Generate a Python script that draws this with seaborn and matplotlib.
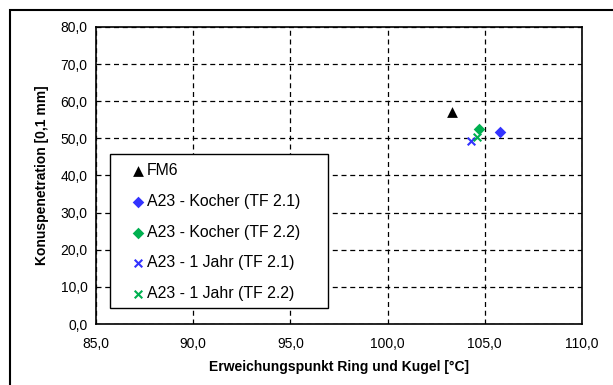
import matplotlib
matplotlib.use("Agg")
import matplotlib.pyplot as plt
import matplotlib.ticker as mticker
from matplotlib.patches import Rectangle
import pandas as pd
import seaborn as sns

# Values
series_names = ["FM6", "A23 - Kocher (TF 2.1)", "A23 - Kocher (TF 2.2)",
                "A23 - 1 Jahr (TF 2.1)", "A23 - 1 Jahr (TF 2.2)"]
erweichungspunkt = [103.3, 105.8, 104.7, 104.3, 104.6]
konuspenetration = [57.0, 51.6, 52.5, 49.4, 50.3]
series_colors = ["#000000", "#3333FF", "#00B050", "#3333FF", "#00B050"]
series_markers = ["^", "D", "D", "x", "x"]
series_sizes = [60, 35, 35, 30, 30]

x_ticks = [85, 90, 95, 100, 105, 110]
y_ticks = [0, 10, 20, 30, 40, 50, 60, 70, 80]

df = pd.DataFrame({"serie": series_names, "x": erweichungspunkt, "y": konuspenetration})

sns.set_theme(style="white", rc={"text.color": "black", "axes.labelcolor": "black",
                                 "xtick.color": "black", "ytick.color": "black"})
plt.rcParams["font.family"] = ["Liberation Sans", "DejaVu Sans"]

fig = plt.figure(figsize=(6.13, 3.85), dpi=100)
ax = fig.add_axes([96 / 613, 1 - 324 / 385, (582 - 96) / 613, (324 - 27) / 385])

for i, row in df.iterrows():
    sns.scatterplot(x=[row["x"]], y=[row["y"]], ax=ax, color=series_colors[i],
                    marker=series_markers[i], s=series_sizes[i],
                    linewidth=1.5 if series_markers[i] == "x" else 0,
                    label=row["serie"])

ax.set_xlim(85, 110)
ax.set_ylim(0, 80)
ax.set_xticks(x_ticks)
ax.set_yticks(y_ticks)
fmt = mticker.FuncFormatter(lambda v, p: f"{v:.1f}".replace(".", ","))
ax.xaxis.set_major_formatter(fmt)
ax.yaxis.set_major_formatter(fmt)
ax.tick_params(axis="both", length=0, labelsize=10, colors="black")
ax.tick_params(axis="x", pad=9)
ax.tick_params(axis="y", pad=6)

ax.grid(True, linestyle=(0, (4, 3)), color="black", linewidth=0.9)
for side in ax.spines.values():
    side.set_visible(True)
    side.set_color("black")
    side.set_linewidth(1.2)

ax.set_xlabel("Erweichungspunkt Ring und Kugel [°C]", fontsize=10, fontweight="bold", labelpad=7)
ax.set_ylabel("Konuspenetration [0,1 mm]", fontsize=10, fontweight="bold", labelpad=8)

# legend box drawn as a patch, entries placed inside it
ax.add_patch(Rectangle((110 / 613, 1 - 308 / 385), 218 / 613, 154 / 385,
                       transform=fig.transFigure, facecolor="white",
                       edgecolor="black", linewidth=1.0, zorder=4, clip_on=False))
leg = ax.legend(loc="upper left", bbox_to_anchor=(134 / 613, 1 - 163 / 385),
                bbox_transform=fig.transFigure, frameon=False, fontsize=11.4,
                handlelength=0.55, handletextpad=0.25, labelspacing=1.0,
                borderpad=0, borderaxespad=0)
leg.set_zorder(5)

# outer chart frame
fig.patches.append(Rectangle((10 / 613, -0.05), 1.1, 1 - 10 / 385 + 0.05,
                             transform=fig.transFigure, fill=False,
                             edgecolor="black", linewidth=1.5))

fig.savefig("out.png", dpi=100)
